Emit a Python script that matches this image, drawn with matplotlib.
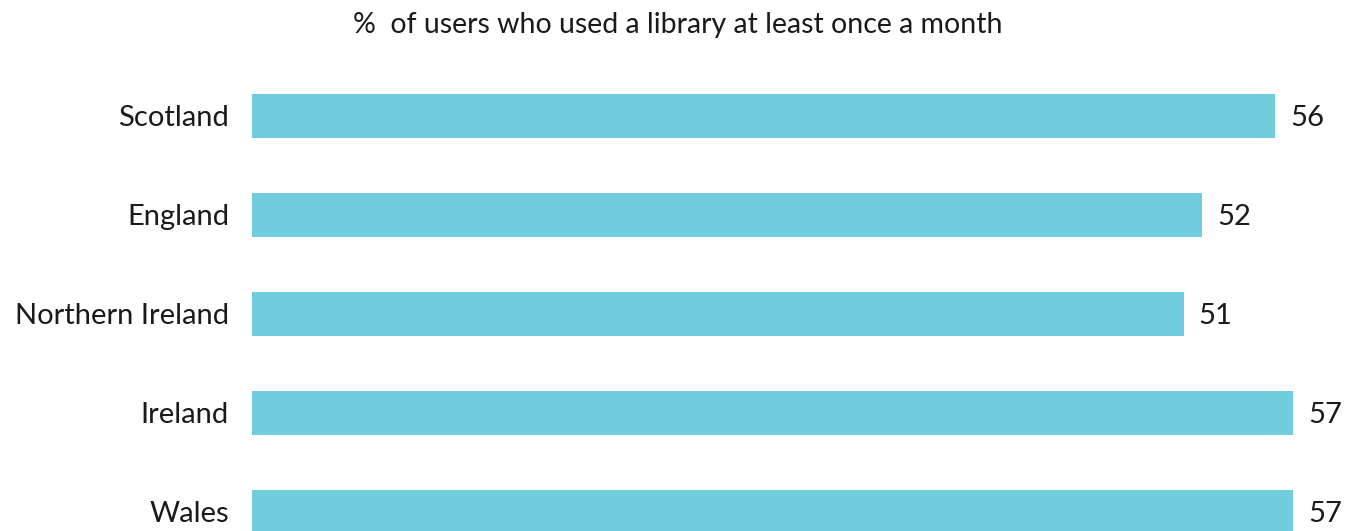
import matplotlib
matplotlib.use("Agg")
import matplotlib.pyplot as plt

countries = ["Scotland", "England", "Northern Ireland", "Ireland", "Wales"]
values = [56, 52, 51, 57, 57]
title = "%  of users who used a library at least once a month"

bar_color = "#70cdde"
plt.rcParams['font.family'] = ['Lato', 'DejaVu Sans']

fig = plt.figure(figsize=(13.56, 5.31), dpi=100)
# axes spans from pixel 252 to 1352 horizontally, full height
ax = fig.add_axes([252 / 1356, 0, 1100 / 1356, 1])
px_per_unit = 18.27
ax.set_xlim(0, 1100 / px_per_unit)
ax.set_ylim((531 - 116) / 99, -116 / 99)

ypos = list(range(len(countries)))
ax.barh(ypos, values, height=0.435, color=bar_color)

for y, v, name in zip(ypos, values, countries):
    ax.text(v + 15 / px_per_unit, y + 0.02, str(v), va="center", ha="left",
            fontsize=21, color="#1a1a1a")
    ax.text(-23 / px_per_unit, y + 0.02, name, va="center", ha="right",
            fontsize=21, color="#1a1a1a", clip_on=False)

ax.axis("off")
fig.text(678 / 1356, 1 - 25 / 531, title, ha="center", va="center",
         fontsize=20.5, color="#1a1a1a")

fig.savefig("out.png", dpi=100)
